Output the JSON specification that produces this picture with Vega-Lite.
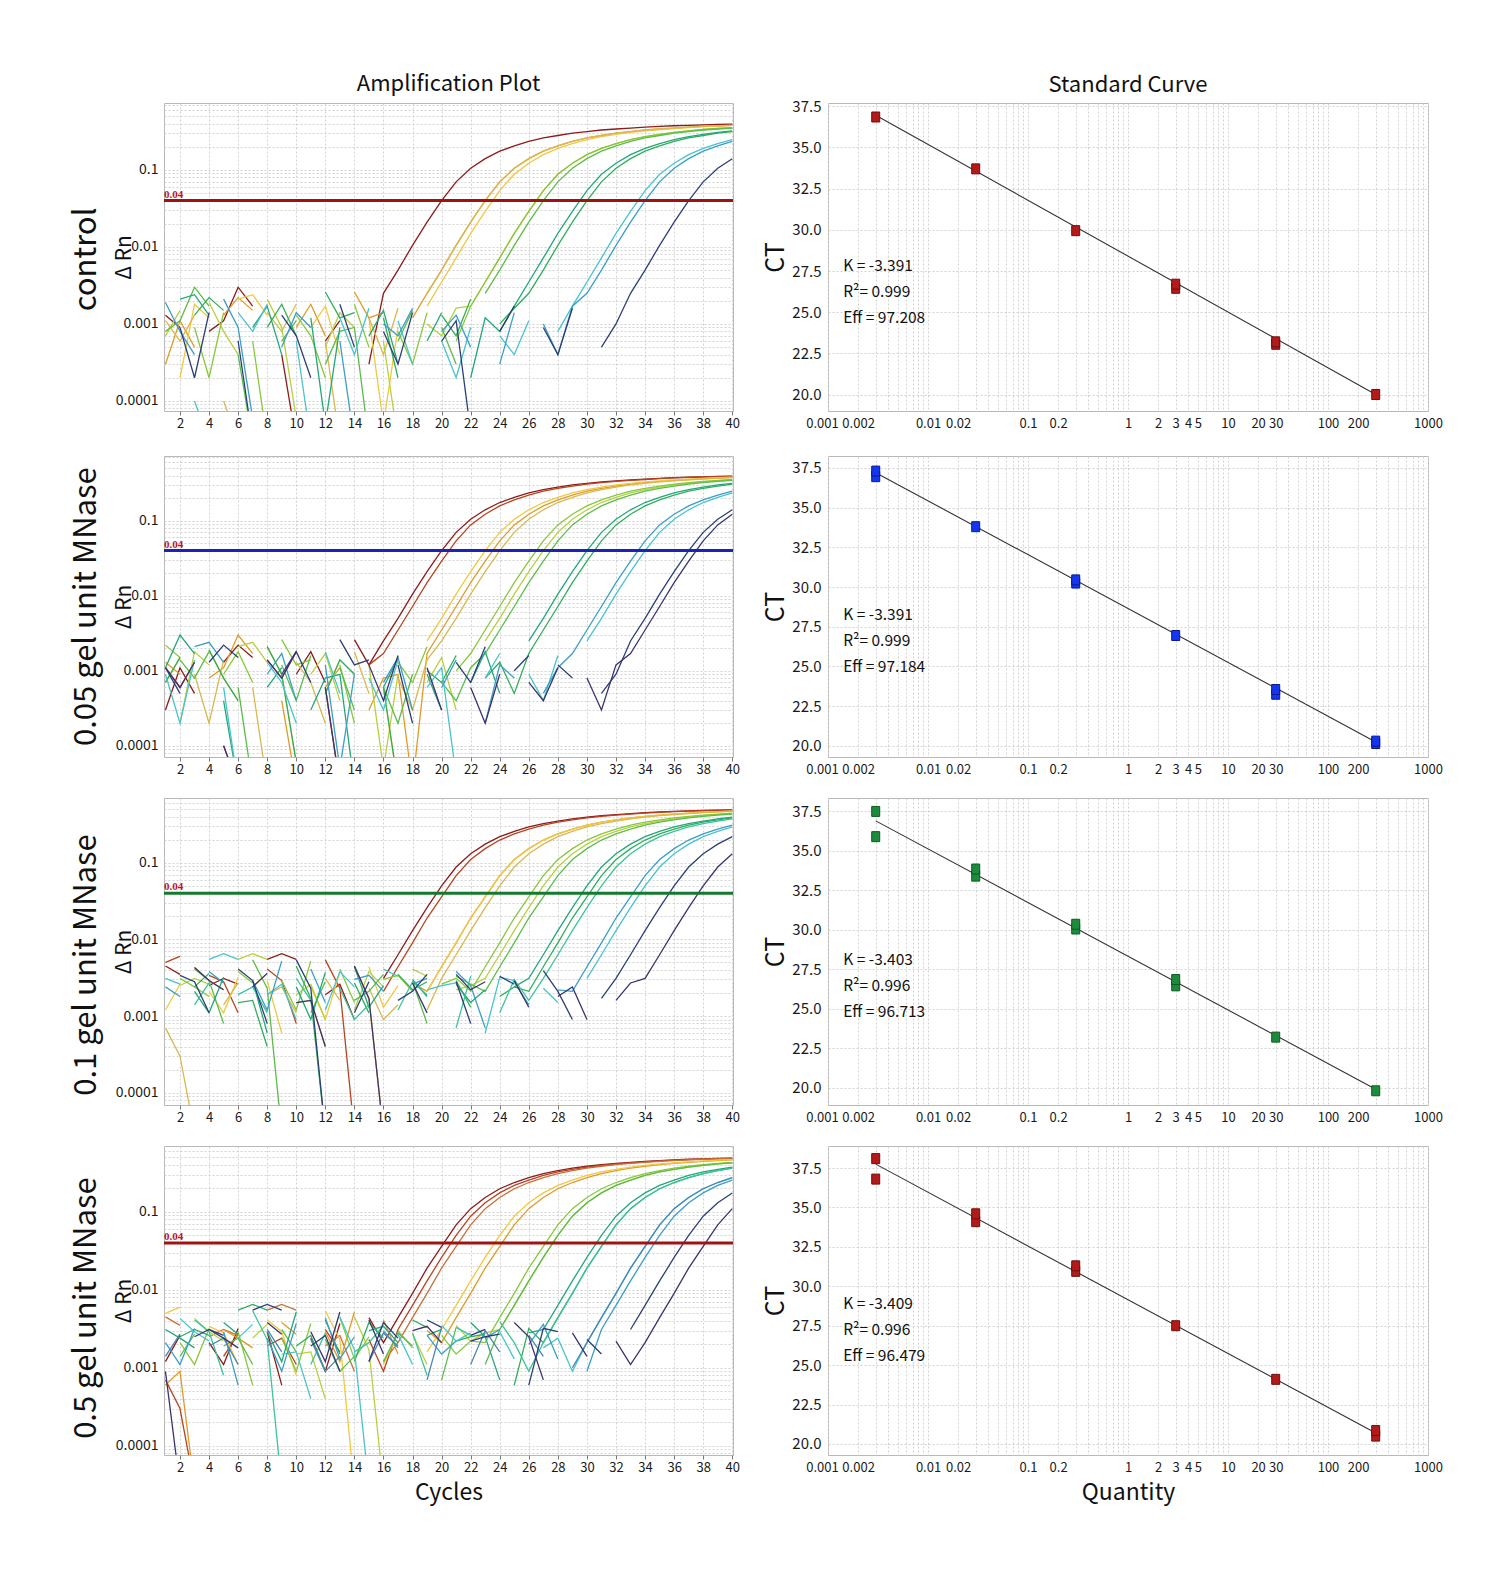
{
"$schema":"https://vega.github.io/schema/vega-lite/v6.json",
"background":"white",
"padding":{"left":70,"top":72,"right":5,"bottom":5},
"spacing":18,
"config":{
 "view":{"stroke":"#b8b8b8","strokeWidth":1},
 "axis":{"domain":false,"labelFont":"Noto Sans CJK SC","labelColor":"#1a1a1a","tickColor":"#777","gridColor":"#d2d2d2","gridDash":[2,2],"gridWidth":1,"titleFont":"Noto Sans CJK SC","titleFontWeight":"normal","titleColor":"#111","labelFlush":false,"labelOverlap":false},
 "title":{"font":"Noto Sans CJK SC","fontWeight":"normal","fontSize":22,"color":"#111"},
 "text":{"font":"Noto Sans CJK SC"}
},
"datasets":{
"thr":[{"p":"p1","t":0.04},{"p":"p2","t":0.04},{"p":"p3","t":0.04},{"p":"p4","t":0.04}],
"stat":[{"p":"p1","s":"K = -3.391\nR²= 0.999\nEff = 97.208"},{"p":"p2","s":"K = -3.391\nR²= 0.999\nEff = 97.184"},{"p":"p3","s":"K = -3.403\nR²= 0.996\nEff = 96.713"},{"p":"p4","s":"K = -3.409\nR²= 0.996\nEff = 96.479"}],
"fit":[{"p":"p1","q":0.003,"ct":36.96},{"p":"p1","q":300,"ct":20.0},{"p":"p2","q":0.003,"ct":37.2},{"p":"p2","q":300,"ct":20.25},{"p":"p3","q":0.003,"ct":36.9},{"p":"p3","q":300,"ct":19.9},{"p":"p4","q":0.003,"ct":37.75},{"p":"p4","q":300,"ct":20.7}],
"std":[
{"p":"p1","q":0.003,"ct":36.85},{"p":"p1","q":0.03,"ct":33.7},{"p":"p1","q":0.3,"ct":29.95},{"p":"p1","q":3,"ct":26.45},{"p":"p1","q":3,"ct":26.7},{"p":"p1","q":30,"ct":23.05},{"p":"p1","q":30,"ct":23.2},{"p":"p1","q":300,"ct":20.0},
{"p":"p2","q":0.003,"ct":36.95},{"p":"p2","q":0.003,"ct":37.3},{"p":"p2","q":0.03,"ct":33.8},{"p":"p2","q":0.3,"ct":30.25},{"p":"p2","q":0.3,"ct":30.45},{"p":"p2","q":3,"ct":26.95},{"p":"p2","q":30,"ct":23.25},{"p":"p2","q":30,"ct":23.55},{"p":"p2","q":300,"ct":20.15},{"p":"p2","q":300,"ct":20.3},
{"p":"p3","q":0.003,"ct":37.5},{"p":"p3","q":0.003,"ct":35.9},{"p":"p3","q":0.03,"ct":33.4},{"p":"p3","q":0.03,"ct":33.85},{"p":"p3","q":0.3,"ct":30.05},{"p":"p3","q":0.3,"ct":30.35},{"p":"p3","q":3,"ct":26.45},{"p":"p3","q":3,"ct":26.85},{"p":"p3","q":30,"ct":23.2},{"p":"p3","q":300,"ct":19.8},
{"p":"p4","q":0.003,"ct":38.1},{"p":"p4","q":0.003,"ct":36.8},{"p":"p4","q":0.03,"ct":34.1},{"p":"p4","q":0.03,"ct":34.6},{"p":"p4","q":0.3,"ct":30.95},{"p":"p4","q":0.3,"ct":31.3},{"p":"p4","q":3,"ct":27.5},{"p":"p4","q":30,"ct":24.1},{"p":"p4","q":300,"ct":20.5},{"p":"p4","q":300,"ct":20.85}
],
"amp":[
{"p":"p1","w":"a1","c":[1,2,3,4,5,6,7,8,9,10,11,12,13,14,15,16,17,18,19,20,21,22,23,24,25,26,27,28,29,30,31,32,33,34,35,36,37,38,39,40],"v":[0.0013,0.0009,null,0.0008,0.0011,0.003,0.0017,null,0.0004,0.00003,null,0.0006,0.0011,null,0.0003,0.0025,0.005,0.0105,0.021,0.04,0.07,0.105,0.14,0.175,0.205,0.235,0.26,0.28,0.3,0.315,0.33,0.34,0.35,0.36,0.368,0.375,0.38,0.385,0.389,0.392]},
{"p":"p1","w":"b1","c":[1,2,3,4,5,6,7,8,9,10,11,12,13,14,15,16,17,18,19,20,21,22,23,24,25,26,27,28,29,30,31,32,33,34,35,36,37,38,39,40],"v":[0.0003,0.0011,0.0005,null,0.0013,0.0022,0.0015,null,null,0.0009,0.0018,0.0007,null,0.0026,0.0012,0.0014,null,0.0012,0.0025,0.005,0.0105,0.021,0.04,0.07,0.105,0.14,0.175,0.205,0.235,0.26,0.28,0.3,0.315,0.33,0.34,0.35,0.36,0.368,0.375,0.38]},
{"p":"p1","w":"b2","c":[1,2,3,4,5,6,7,8,9,10,11,12,13,14,15,16,17,18,19,20,21,22,23,24,25,26,27,28,29,30,31,32,33,34,35,36,37,38,39,40],"v":[null,0.0002,0.0018,0.0012,null,0.0021,0.0024,0.0013,null,null,0.0009,0.0017,0.0004,null,0.0012,0.00005,0.0009,null,0.0017,0.0035,0.0072,0.015,0.029,0.054,0.088,0.122,0.158,0.19,0.22,0.248,0.27,0.29,0.308,0.322,0.335,0.345,0.355,0.364,0.372,0.378]},
{"p":"p1","w":"b3","c":[1,2,3,4,5,6,7,8,9,10,11,12,13,14,15,16,17,18,19,20,21,22,23,24,25,26,27,28,29,30,31,32,33,34,35,36,37,38,39,40],"v":[0.0011,0.0006,0.0013,null,0.0001,0.00003,null,0.0014,0.0008,0.0018,null,0.0006,0.00003,null,0.0012,0.0004,0.0016,null,0.0025,0.005,0.0105,0.021,0.04,0.07,0.105,0.14,0.175,0.205,0.235,0.26,0.28,0.3,0.315,0.33,0.34,0.35,0.36,0.368,0.375,0.38]},
{"p":"p1","w":"c1","c":[1,2,3,4,5,6,7,8,9,10,11,12,13,14,15,16,17,18,19,20,21,22,23,24,25,26,27,28,29,30,31,32,33,34,35,36,37,38,39,40],"v":[0.0007,0.0015,null,0.0019,0.0008,0.0004,null,0.0021,0.0009,0.00006,null,0.0005,0.0014,0.0009,null,0.0006,0.00003,null,0.001,0.0007,0.0016,0.0017,0.0035,0.0072,0.015,0.029,0.054,0.088,0.122,0.158,0.19,0.22,0.248,0.27,0.29,0.308,0.322,0.335,0.345,0.355]},
{"p":"p1","w":"c2","c":[1,2,3,4,5,6,7,8,9,10,11,12,13,14,15,16,17,18,19,20,21,22,23,24,25,26,27,28,29,30,31,32,33,34,35,36,37,38,39,40],"v":[0.0016,null,0.0009,0.0002,0.0014,null,0.0006,0.00003,null,0.0013,0.0007,0.0002,null,0.0018,0.0005,null,0.0008,0.0003,0.0014,null,0.0006,0.0017,0.0035,0.0072,0.015,0.029,0.054,0.088,0.122,0.158,0.19,0.22,0.248,0.27,0.29,0.308,0.322,0.335,0.345,0.355]},
{"p":"p1","w":"c3","c":[1,2,3,4,5,6,7,8,9,10,11,12,13,14,15,16,17,18,19,20,21,22,23,24,25,26,27,28,29,30,31,32,33,34,35,36,37,38,39,40],"v":[0.0008,0.0011,0.003,0.0017,null,0.0004,0.00003,null,0.0006,0.0011,null,0.0003,0.0008,0.0009,0.00003,null,0.0006,0.0015,null,0.0009,0.0003,null,0.0025,0.005,0.0105,0.021,0.04,0.07,0.105,0.14,0.175,0.205,0.235,0.26,0.28,0.3,0.315,0.33,0.34,0.35]},
{"p":"p1","w":"d1","c":[1,2,3,4,5,6,7,8,9,10,11,12,13,14,15,16,17,18,19,20,21,22,23,24,25,26,27,28,29,30,31,32,33,34,35,36,37,38,39,40],"v":[0.0005,null,0.0013,0.0022,0.0015,null,null,0.0009,0.0018,0.0007,null,0.0026,0.0012,0.0014,null,0.0012,0.0002,null,null,0.0013,0.0007,0.0021,null,0.001,0.0016,0.0025,0.005,0.0105,0.021,0.04,0.07,0.105,0.14,0.175,0.205,0.235,0.26,0.28,0.3,0.315]},
{"p":"p1","w":"d2","c":[1,2,3,4,5,6,7,8,9,10,11,12,13,14,15,16,17,18,19,20,21,22,23,24,25,26,27,28,29,30,31,32,33,34,35,36,37,38,39,40],"v":[null,0.0021,0.0024,0.0013,null,null,0.0009,0.0017,0.0004,null,0.0012,0.00005,0.0009,null,0.0007,0.0015,0.0003,null,0.0006,0.0014,null,0.0002,0.0012,0.0008,0.0017,0.0035,0.0072,0.015,0.029,0.054,0.088,0.122,0.158,0.19,0.22,0.248,0.27,0.29,0.308,0.322]},
{"p":"p1","w":"e1","c":[1,2,3,4,5,6,7,8,9,10,11,12,13,14,15,16,17,18,19,20,21,22,23,24,25,26,27,28,29,30,31,32,33,34,35,36,37,38,39,40],"v":[0.0013,null,0.0001,0.00003,null,0.0014,0.0008,0.0018,null,0.0006,0.00003,null,0.0012,0.0004,0.0016,null,0.0011,0.0003,null,0.0006,0.0002,0.0009,null,0.0007,0.0004,0.0011,null,0.0008,0.0017,0.0035,0.0072,0.015,0.029,0.054,0.088,0.122,0.158,0.19,0.22,0.248]},
{"p":"p1","w":"e2","c":[1,2,3,4,5,6,7,8,9,10,11,12,13,14,15,16,17,18,19,20,21,22,23,24,25,26,27,28,29,30,31,32,33,34,35,36,37,38,39,40],"v":[0.0019,0.0008,0.0004,null,0.0021,0.0009,0.00006,null,0.0005,0.0014,0.0009,null,0.0006,0.00003,null,0.001,0.0007,0.0016,null,0.0008,0.0013,0.0005,null,0.0003,0.0014,null,0.001,0.0004,0.0017,0.0025,0.005,0.0105,0.021,0.04,0.07,0.105,0.14,0.175,0.205,0.235]},
{"p":"p1","w":"f1","c":[1,2,3,4,5,6,7,8,9,10,11,12,13,14,15,16,17,18,19,20,21,22,23,24,25,26,27,28,29,30,31,32,33,34,35,36,37,38,39,40],"v":[null,0.0009,0.0002,0.0014,null,0.0006,0.00003,null,0.0013,0.0007,0.0002,null,0.0018,0.0005,null,0.0008,0.0003,0.0014,null,0.0006,0.0011,0.00004,null,0.0008,0.0017,null,0.0009,0.0004,0.0016,null,0.0005,0.001,0.0025,0.005,0.0105,0.021,0.04,0.07,0.105,0.14]},
{"p":"p2","w":"a1","c":[1,2,3,4,5,6,7,8,9,10,11,12,13,14,15,16,17,18,19,20,21,22,23,24,25,26,27,28,29,30,31,32,33,34,35,36,37,38,39,40],"v":[0.0003,0.0011,0.0005,null,0.0013,0.0022,0.0015,null,null,0.0009,0.0018,0.0007,null,0.0026,0.0012,0.0025,0.005,0.0105,0.021,0.04,0.07,0.105,0.14,0.175,0.205,0.235,0.26,0.28,0.3,0.315,0.33,0.34,0.35,0.36,0.368,0.375,0.38,0.385,0.389,0.392]},
{"p":"p2","w":"a2","c":[1,2,3,4,5,6,7,8,9,10,11,12,13,14,15,16,17,18,19,20,21,22,23,24,25,26,27,28,29,30,31,32,33,34,35,36,37,38,39,40],"v":[0.0011,0.0006,0.0013,null,0.0001,0.00003,null,0.0014,0.0008,0.0018,null,0.0006,0.00003,null,0.0012,0.0017,0.0035,0.0072,0.015,0.029,0.054,0.088,0.122,0.158,0.19,0.22,0.248,0.27,0.29,0.308,0.322,0.335,0.345,0.355,0.364,0.372,0.378,0.383,0.387,0.39]},
{"p":"p2","w":"b1","c":[1,2,3,4,5,6,7,8,9,10,11,12,13,14,15,16,17,18,19,20,21,22,23,24,25,26,27,28,29,30,31,32,33,34,35,36,37,38,39,40],"v":[0.0013,0.0009,null,0.0008,0.0011,0.003,0.0017,null,0.0004,0.00003,null,0.0006,0.0011,null,0.0003,0.0008,0.0009,0.00003,0.0017,0.0035,0.0072,0.015,0.029,0.054,0.088,0.122,0.158,0.19,0.22,0.248,0.27,0.29,0.308,0.322,0.335,0.345,0.355,0.364,0.372,0.378]},
{"p":"p2","w":"b2","c":[1,2,3,4,5,6,7,8,9,10,11,12,13,14,15,16,17,18,19,20,21,22,23,24,25,26,27,28,29,30,31,32,33,34,35,36,37,38,39,40],"v":[0.0007,0.0015,null,0.0019,0.0008,0.0004,null,0.0021,0.0009,0.00006,null,0.0005,0.0014,0.0009,null,0.0006,0.00003,null,0.0025,0.005,0.0105,0.021,0.04,0.07,0.105,0.14,0.175,0.205,0.235,0.26,0.28,0.3,0.315,0.33,0.34,0.35,0.36,0.368,0.375,0.38]},
{"p":"p2","w":"b3","c":[1,2,3,4,5,6,7,8,9,10,11,12,13,14,15,16,17,18,19,20,21,22,23,24,25,26,27,28,29,30,31,32,33,34,35,36,37,38,39,40],"v":[0.0016,null,0.0009,0.0002,0.0014,null,0.0006,0.00003,null,0.0013,0.0007,0.0002,null,0.0018,0.0005,null,0.0008,0.0003,0.0014,0.0025,0.005,0.0105,0.021,0.04,0.07,0.105,0.14,0.175,0.205,0.235,0.26,0.28,0.3,0.315,0.33,0.34,0.35,0.36,0.368,0.375]},
{"p":"p2","w":"c1","c":[1,2,3,4,5,6,7,8,9,10,11,12,13,14,15,16,17,18,19,20,21,22,23,24,25,26,27,28,29,30,31,32,33,34,35,36,37,38,39,40],"v":[null,0.0002,0.0018,0.0012,null,0.0021,0.0024,0.0013,null,null,0.0009,0.0017,0.0004,null,0.0012,0.00005,0.0009,null,0.0007,0.0015,0.0003,null,0.0025,0.005,0.0105,0.021,0.04,0.07,0.105,0.14,0.175,0.205,0.235,0.26,0.28,0.3,0.315,0.33,0.34,0.35]},
{"p":"p2","w":"c2","c":[1,2,3,4,5,6,7,8,9,10,11,12,13,14,15,16,17,18,19,20,21,22,23,24,25,26,27,28,29,30,31,32,33,34,35,36,37,38,39,40],"v":[0.0022,0.0015,null,null,0.0009,0.0018,0.0007,null,0.0026,0.0012,0.0014,null,0.0012,0.0002,null,null,0.0013,0.0007,0.0021,null,0.001,0.0017,0.0035,0.0072,0.015,0.029,0.054,0.088,0.122,0.158,0.19,0.22,0.248,0.27,0.29,0.308,0.322,0.335,0.345,0.355]},
{"p":"p2","w":"c3","c":[1,2,3,4,5,6,7,8,9,10,11,12,13,14,15,16,17,18,19,20,21,22,23,24,25,26,27,28,29,30,31,32,33,34,35,36,37,38,39,40],"v":[null,0.0014,0.0008,0.0018,null,0.0006,0.00003,null,0.0012,0.0004,0.0016,null,0.0011,0.0003,null,0.0006,0.0002,0.0009,null,0.0007,0.0004,0.0011,0.0017,0.0035,0.0072,0.015,0.029,0.054,0.088,0.122,0.158,0.19,0.22,0.248,0.27,0.29,0.308,0.322,0.335,0.345]},
{"p":"p2","w":"d1","c":[1,2,3,4,5,6,7,8,9,10,11,12,13,14,15,16,17,18,19,20,21,22,23,24,25,26,27,28,29,30,31,32,33,34,35,36,37,38,39,40],"v":[0.0007,0.0015,null,0.0019,0.0008,0.0004,null,0.0021,0.0009,0.00006,null,0.0005,0.0014,0.0009,null,0.0006,0.00003,null,0.001,0.0007,0.0016,null,0.0008,0.0013,0.0005,0.0017,0.0035,0.0072,0.015,0.029,0.054,0.088,0.122,0.158,0.19,0.22,0.248,0.27,0.29,0.308]},
{"p":"p2","w":"d2","c":[1,2,3,4,5,6,7,8,9,10,11,12,13,14,15,16,17,18,19,20,21,22,23,24,25,26,27,28,29,30,31,32,33,34,35,36,37,38,39,40],"v":[0.0011,0.003,0.0017,null,0.0004,0.00003,null,0.0006,0.0011,null,0.0003,0.0008,0.0009,0.00003,null,0.0006,0.0015,null,0.0009,0.0003,null,0.0007,0.0018,0.0005,null,0.0025,0.005,0.0105,0.021,0.04,0.07,0.105,0.14,0.175,0.205,0.235,0.26,0.28,0.3,0.315]},
{"p":"p2","w":"e1","c":[1,2,3,4,5,6,7,8,9,10,11,12,13,14,15,16,17,18,19,20,21,22,23,24,25,26,27,28,29,30,31,32,33,34,35,36,37,38,39,40],"v":[0.0009,0.0002,0.0014,null,0.0006,0.00003,null,0.0013,0.0007,0.0002,null,0.0018,0.0005,null,0.0008,0.0003,0.0014,null,0.0006,0.0011,0.00004,null,0.0008,0.0017,null,0.0009,0.0004,0.0016,null,0.0025,0.005,0.0105,0.021,0.04,0.07,0.105,0.14,0.175,0.205,0.235]},
{"p":"p2","w":"e2","c":[1,2,3,4,5,6,7,8,9,10,11,12,13,14,15,16,17,18,19,20,21,22,23,24,25,26,27,28,29,30,31,32,33,34,35,36,37,38,39,40],"v":[0.0012,null,0.0021,0.0024,0.0013,null,null,0.0009,0.0017,0.0004,null,0.0012,0.00005,0.0009,null,0.0007,0.0015,0.0003,null,0.0006,0.0014,null,0.0002,0.0012,0.0008,null,0.0005,0.0011,0.0017,0.0035,0.0072,0.015,0.029,0.054,0.088,0.122,0.158,0.19,0.22,0.248]},
{"p":"p2","w":"f1","c":[1,2,3,4,5,6,7,8,9,10,11,12,13,14,15,16,17,18,19,20,21,22,23,24,25,26,27,28,29,30,31,32,33,34,35,36,37,38,39,40],"v":[0.0011,0.0005,null,0.0013,0.0022,0.0015,null,null,0.0009,0.0018,0.0007,null,0.0026,0.0012,0.0014,null,0.0012,0.0002,null,null,0.0013,0.0007,0.0021,null,0.001,0.0016,null,0.0012,0.0008,null,0.0005,0.0009,0.0025,0.005,0.0105,0.021,0.04,0.07,0.105,0.14]},
{"p":"p2","w":"f2","c":[1,2,3,4,5,6,7,8,9,10,11,12,13,14,15,16,17,18,19,20,21,22,23,24,25,26,27,28,29,30,31,32,33,34,35,36,37,38,39,40],"v":[0.0011,0.0006,0.0013,null,0.0001,0.00003,null,0.0014,0.0008,0.0018,null,0.0006,0.00003,null,0.0012,0.0004,0.0016,null,0.0011,0.0003,null,0.0006,0.0002,0.0009,null,0.0007,0.0004,0.0011,null,0.0008,0.0003,0.0012,0.0017,0.0035,0.0072,0.015,0.029,0.054,0.088,0.122]},
{"p":"p3","w":"a1","c":[1,2,3,4,5,6,7,8,9,10,11,12,13,14,15,16,17,18,19,20,21,22,23,24,25,26,27,28,29,30,31,32,33,34,35,36,37,38,39,40],"v":[0.0045,0.0035,null,0.0025,0.0031,0.0026,null,0.0055,0.0065,0.0055,null,0.0019,0.0026,0.0009,null,0.0031,0.0063,0.013,0.026,0.05,0.088,0.131,0.175,0.219,0.256,0.294,0.325,0.35,0.375,0.394,0.413,0.425,0.438,0.45,0.46,0.469,0.475,0.481,0.486,0.49]},
{"p":"p3","w":"a2","c":[1,2,3,4,5,6,7,8,9,10,11,12,13,14,15,16,17,18,19,20,21,22,23,24,25,26,27,28,29,30,31,32,33,34,35,36,37,38,39,40],"v":[0.005,0.006,null,0.0034,0.0028,0.0011,null,0.0041,0.0029,0.0008,null,0.0054,0.0023,0.00003,null,0.0021,0.0044,0.009,0.019,0.036,0.068,0.11,0.153,0.198,0.238,0.275,0.31,0.338,0.363,0.385,0.403,0.419,0.431,0.444,0.455,0.465,0.473,0.479,0.484,0.488]},
{"p":"p3","w":"b1","c":[1,2,3,4,5,6,7,8,9,10,11,12,13,14,15,16,17,18,19,20,21,22,23,24,25,26,27,28,29,30,31,32,33,34,35,36,37,38,39,40],"v":[0.0024,null,0.0043,0.0029,0.0022,null,0.0024,0.0036,null,0.0015,0.0016,0.0004,null,0.0045,0.0017,0.00003,null,0.0027,0.0021,0.0044,0.009,0.019,0.036,0.068,0.11,0.153,0.198,0.238,0.275,0.31,0.338,0.363,0.385,0.403,0.419,0.431,0.444,0.455,0.465,0.473]},
{"p":"p3","w":"b2","c":[1,2,3,4,5,6,7,8,9,10,11,12,13,14,15,16,17,18,19,20,21,22,23,24,25,26,27,28,29,30,31,32,33,34,35,36,37,38,39,40],"v":[0.0012,0.0026,null,0.0021,0.0011,0.0032,null,0.0029,0.0006,null,0.0024,0.0009,0.0037,null,0.0044,0.0013,0.0025,null,0.0021,0.0044,0.009,0.019,0.036,0.068,0.11,0.153,0.198,0.238,0.275,0.31,0.338,0.363,0.385,0.403,0.419,0.431,0.444,0.455,0.465,0.473]},
{"p":"p3","w":"b3","c":[1,2,3,4,5,6,7,8,9,10,11,12,13,14,15,16,17,18,19,20,21,22,23,24,25,26,27,28,29,30,31,32,33,34,35,36,37,38,39,40],"v":[0.0007,0.0003,0.00003,null,0.0014,0.0027,null,0.0019,0.0024,0.0011,null,0.0031,0.0016,null,0.0023,0.0009,0.0014,null,0.0012,0.0031,0.0063,0.013,0.026,0.05,0.088,0.131,0.175,0.219,0.256,0.294,0.325,0.35,0.375,0.394,0.413,0.425,0.438,0.45,0.46,0.469]},
{"p":"p3","w":"c1","c":[1,2,3,4,5,6,7,8,9,10,11,12,13,14,15,16,17,18,19,20,21,22,23,24,25,26,27,28,29,30,31,32,33,34,35,36,37,38,39,40],"v":[null,0.0025,0.0031,0.0026,null,0.0055,0.0065,0.0055,null,0.0019,0.0026,0.0009,null,0.0012,0.0038,0.0024,null,0.0041,0.0033,null,0.0022,0.0025,0.0031,0.0063,0.013,0.026,0.05,0.088,0.131,0.175,0.219,0.256,0.294,0.325,0.35,0.375,0.394,0.413,0.425,0.438]},
{"p":"p3","w":"c2","c":[1,2,3,4,5,6,7,8,9,10,11,12,13,14,15,16,17,18,19,20,21,22,23,24,25,26,27,28,29,30,31,32,33,34,35,36,37,38,39,40],"v":[null,0.0031,0.0024,0.0018,null,0.0038,0.0027,null,0.0029,0.0012,0.0052,null,0.0041,0.0015,null,0.003,0.0034,0.0021,null,0.0026,0.0031,0.0021,0.0044,0.009,0.019,0.036,0.068,0.11,0.153,0.198,0.238,0.275,0.31,0.338,0.363,0.385,0.403,0.419,0.431,0.444]},
{"p":"p3","w":"c3","c":[1,2,3,4,5,6,7,8,9,10,11,12,13,14,15,16,17,18,19,20,21,22,23,24,25,26,27,28,29,30,31,32,33,34,35,36,37,38,39,40],"v":[0.0011,null,0.0041,0.0029,0.0008,null,0.0054,0.0023,0.00003,null,0.0011,0.0028,null,0.0016,0.0021,0.0035,null,0.0028,0.0008,null,0.0033,0.0026,0.0021,0.0044,0.009,0.019,0.036,0.068,0.11,0.153,0.198,0.238,0.275,0.31,0.338,0.363,0.385,0.403,0.419,0.431]},
{"p":"p3","w":"d1","c":[1,2,3,4,5,6,7,8,9,10,11,12,13,14,15,16,17,18,19,20,21,22,23,24,25,26,27,28,29,30,31,32,33,34,35,36,37,38,39,40],"v":[0.0022,null,0.0024,0.0036,null,0.0015,0.0016,0.0004,null,0.0045,0.0017,0.00003,null,0.0027,0.0011,null,0.0035,0.0022,0.0028,null,0.0029,0.0013,null,0.0018,0.0024,0.0021,0.0044,0.009,0.019,0.036,0.068,0.11,0.153,0.198,0.238,0.275,0.31,0.338,0.363,0.385]},
{"p":"p3","w":"d2","c":[1,2,3,4,5,6,7,8,9,10,11,12,13,14,15,16,17,18,19,20,21,22,23,24,25,26,27,28,29,30,31,32,33,34,35,36,37,38,39,40],"v":[0.0026,null,0.0021,0.0011,0.0032,null,0.0029,0.0006,null,0.0024,0.0009,0.0037,null,0.0044,0.0013,0.0025,null,0.003,0.0018,null,0.0026,0.0015,0.0022,null,0.0024,0.0031,0.0063,0.013,0.026,0.05,0.088,0.131,0.175,0.219,0.256,0.294,0.325,0.35,0.375,0.394]},
{"p":"p3","w":"d3","c":[1,2,3,4,5,6,7,8,9,10,11,12,13,14,15,16,17,18,19,20,21,22,23,24,25,26,27,28,29,30,31,32,33,34,35,36,37,38,39,40],"v":[0.00003,null,0.0014,0.0027,null,0.0019,0.0024,0.0011,null,0.0031,0.0016,null,0.0023,0.0009,0.0014,null,0.0012,0.0028,0.0019,null,0.0007,0.0033,null,0.0011,0.003,0.0016,0.0031,0.0063,0.013,0.026,0.05,0.088,0.131,0.175,0.219,0.256,0.294,0.325,0.35,0.375]},
{"p":"p3","w":"e1","c":[1,2,3,4,5,6,7,8,9,10,11,12,13,14,15,16,17,18,19,20,21,22,23,24,25,26,27,28,29,30,31,32,33,34,35,36,37,38,39,40],"v":[0.0031,0.0026,null,0.0055,0.0065,0.0055,null,0.0019,0.0026,0.0009,null,0.0012,0.0038,0.0024,null,0.0041,0.0033,null,0.0022,0.0025,0.0027,null,0.0006,0.0032,0.0029,null,0.0023,0.0015,null,0.0031,0.0063,0.013,0.026,0.05,0.088,0.131,0.175,0.219,0.256,0.294]},
{"p":"p3","w":"e2","c":[1,2,3,4,5,6,7,8,9,10,11,12,13,14,15,16,17,18,19,20,21,22,23,24,25,26,27,28,29,30,31,32,33,34,35,36,37,38,39,40],"v":[0.0024,0.0018,null,0.0038,0.0027,null,0.0029,0.0012,0.0052,null,0.0041,0.0015,null,0.003,0.0034,0.0021,null,0.0026,0.0031,null,0.0038,0.0025,0.0007,null,0.0028,0.0014,null,0.0022,0.0021,0.0044,0.009,0.019,0.036,0.068,0.11,0.153,0.198,0.238,0.275,0.31]},
{"p":"p3","w":"f1","c":[1,2,3,4,5,6,7,8,9,10,11,12,13,14,15,16,17,18,19,20,21,22,23,24,25,26,27,28,29,30,31,32,33,34,35,36,37,38,39,40],"v":[null,0.0034,0.0028,0.0011,null,0.0041,0.0029,0.0008,null,0.0054,0.0023,0.00003,null,0.0011,0.0028,null,0.0016,0.0021,0.0035,null,0.0028,0.0008,null,0.0033,0.0026,null,0.0039,0.0021,0.0009,null,0.0017,0.0031,0.0063,0.013,0.026,0.05,0.088,0.131,0.175,0.219]},
{"p":"p3","w":"f2","c":[1,2,3,4,5,6,7,8,9,10,11,12,13,14,15,16,17,18,19,20,21,22,23,24,25,26,27,28,29,30,31,32,33,34,35,36,37,38,39,40],"v":[0.0024,null,0.0043,0.0029,0.0022,null,0.0024,0.0036,null,0.0015,0.0016,0.0004,null,0.0045,0.0017,0.00003,null,0.0027,0.0011,null,0.0035,0.0022,0.0028,null,0.0029,0.0013,null,0.0018,0.0024,0.0009,null,0.0016,0.0027,0.0031,0.0063,0.013,0.026,0.05,0.088,0.131]},
{"p":"p4","w":"a1","c":[1,2,3,4,5,6,7,8,9,10,11,12,13,14,15,16,17,18,19,20,21,22,23,24,25,26,27,28,29,30,31,32,33,34,35,36,37,38,39,40],"v":[0.0012,0.0026,null,0.0021,0.0011,0.0032,null,0.0029,0.0006,null,0.0024,0.0009,0.0037,null,0.0044,0.0021,0.0044,0.009,0.019,0.036,0.068,0.11,0.153,0.198,0.238,0.275,0.31,0.338,0.363,0.385,0.403,0.419,0.431,0.444,0.455,0.465,0.473,0.479,0.484,0.488]},
{"p":"p4","w":"a2","c":[1,2,3,4,5,6,7,8,9,10,11,12,13,14,15,16,17,18,19,20,21,22,23,24,25,26,27,28,29,30,31,32,33,34,35,36,37,38,39,40],"v":[0.0007,0.0003,0.00003,null,0.0014,0.0027,null,0.0019,0.0024,0.0011,null,0.0031,0.0016,null,0.0023,0.0009,0.0031,0.0063,0.013,0.026,0.05,0.088,0.131,0.175,0.219,0.256,0.294,0.325,0.35,0.375,0.394,0.413,0.425,0.438,0.45,0.46,0.469,0.475,0.481,0.486]},
{"p":"p4","w":"a3","c":[1,2,3,4,5,6,7,8,9,10,11,12,13,14,15,16,17,18,19,20,21,22,23,24,25,26,27,28,29,30,31,32,33,34,35,36,37,38,39,40],"v":[0.0045,0.0035,null,0.0025,0.0031,0.0026,null,0.0055,0.0065,0.0055,null,0.0019,0.0026,0.0009,null,0.0012,0.0021,0.0044,0.009,0.019,0.036,0.068,0.11,0.153,0.198,0.238,0.275,0.31,0.338,0.363,0.385,0.403,0.419,0.431,0.444,0.455,0.465,0.473,0.479,0.484]},
{"p":"p4","w":"b1","c":[1,2,3,4,5,6,7,8,9,10,11,12,13,14,15,16,17,18,19,20,21,22,23,24,25,26,27,28,29,30,31,32,33,34,35,36,37,38,39,40],"v":[0.0006,0.0009,0.00003,null,0.0031,0.0024,0.0018,null,0.0038,0.0027,null,0.0029,0.0012,0.0052,null,0.0041,0.0015,null,0.003,0.0021,0.0044,0.009,0.019,0.036,0.068,0.11,0.153,0.198,0.238,0.275,0.31,0.338,0.363,0.385,0.403,0.419,0.431,0.444,0.455,0.465]},
{"p":"p4","w":"b2","c":[1,2,3,4,5,6,7,8,9,10,11,12,13,14,15,16,17,18,19,20,21,22,23,24,25,26,27,28,29,30,31,32,33,34,35,36,37,38,39,40],"v":[0.005,0.006,null,0.0034,0.0028,0.0011,null,0.0041,0.0029,0.0008,null,0.0054,0.0023,0.00003,null,0.0011,0.0028,null,0.0016,0.0031,0.0063,0.013,0.026,0.05,0.088,0.131,0.175,0.219,0.256,0.294,0.325,0.35,0.375,0.394,0.413,0.425,0.438,0.45,0.46,0.469]},
{"p":"p4","w":"c1","c":[1,2,3,4,5,6,7,8,9,10,11,12,13,14,15,16,17,18,19,20,21,22,23,24,25,26,27,28,29,30,31,32,33,34,35,36,37,38,39,40],"v":[0.0024,null,0.0043,0.0029,0.0022,null,0.0024,0.0036,null,0.0015,0.0016,0.0004,null,0.0045,0.0017,0.00003,null,0.0027,0.0011,null,0.0035,0.0022,0.0028,0.0031,0.0063,0.013,0.026,0.05,0.088,0.131,0.175,0.219,0.256,0.294,0.325,0.35,0.375,0.394,0.413,0.425]},
{"p":"p4","w":"c2","c":[1,2,3,4,5,6,7,8,9,10,11,12,13,14,15,16,17,18,19,20,21,22,23,24,25,26,27,28,29,30,31,32,33,34,35,36,37,38,39,40],"v":[null,0.0021,0.0011,0.0032,null,0.0029,0.0006,null,0.0024,0.0009,0.0037,null,0.0044,0.0013,0.0025,null,0.003,0.0018,null,0.0026,0.0015,0.0022,0.0021,0.0044,0.009,0.019,0.036,0.068,0.11,0.153,0.198,0.238,0.275,0.31,0.338,0.363,0.385,0.403,0.419,0.431]},
{"p":"p4","w":"c3","c":[1,2,3,4,5,6,7,8,9,10,11,12,13,14,15,16,17,18,19,20,21,22,23,24,25,26,27,28,29,30,31,32,33,34,35,36,37,38,39,40],"v":[null,0.0014,0.0027,null,0.0019,0.0024,0.0011,null,0.0031,0.0016,null,0.0023,0.0009,0.0014,null,0.0012,0.0028,0.0019,null,0.0007,0.0033,null,0.0011,0.0031,0.0063,0.013,0.026,0.05,0.088,0.131,0.175,0.219,0.256,0.294,0.325,0.35,0.375,0.394,0.413,0.425]},
{"p":"p4","w":"d1","c":[1,2,3,4,5,6,7,8,9,10,11,12,13,14,15,16,17,18,19,20,21,22,23,24,25,26,27,28,29,30,31,32,33,34,35,36,37,38,39,40],"v":[null,0.0025,0.0031,0.0026,null,0.0055,0.0065,0.0055,null,0.0019,0.0026,0.0009,null,0.0012,0.0038,0.0024,null,0.0041,0.0033,null,0.0022,0.0025,0.0027,null,0.0006,0.0032,0.0021,0.0044,0.009,0.019,0.036,0.068,0.11,0.153,0.198,0.238,0.275,0.31,0.338,0.363]},
{"p":"p4","w":"d2","c":[1,2,3,4,5,6,7,8,9,10,11,12,13,14,15,16,17,18,19,20,21,22,23,24,25,26,27,28,29,30,31,32,33,34,35,36,37,38,39,40],"v":[0.0031,0.0024,0.0018,null,0.0038,0.0027,null,0.0029,0.0012,0.0052,null,0.0041,0.0015,null,0.003,0.0034,0.0021,null,0.0026,0.0031,null,0.0038,0.0025,0.0007,null,0.0028,0.0031,0.0063,0.013,0.026,0.05,0.088,0.131,0.175,0.219,0.256,0.294,0.325,0.35,0.375]},
{"p":"p4","w":"d3","c":[1,2,3,4,5,6,7,8,9,10,11,12,13,14,15,16,17,18,19,20,21,22,23,24,25,26,27,28,29,30,31,32,33,34,35,36,37,38,39,40],"v":[0.0011,null,0.0041,0.0029,0.0008,null,0.0054,0.0023,0.00003,null,0.0011,0.0028,null,0.0016,0.0021,0.0035,null,0.0028,0.0008,null,0.0033,0.0026,null,0.0039,0.0021,0.0009,0.0021,0.0044,0.009,0.019,0.036,0.068,0.11,0.153,0.198,0.238,0.275,0.31,0.338,0.363]},
{"p":"p4","w":"e1","c":[1,2,3,4,5,6,7,8,9,10,11,12,13,14,15,16,17,18,19,20,21,22,23,24,25,26,27,28,29,30,31,32,33,34,35,36,37,38,39,40],"v":[null,0.0043,0.0029,0.0022,null,0.0024,0.0036,null,0.0015,0.0016,0.0004,null,0.0045,0.0017,0.00003,null,0.0027,0.0011,null,0.0035,0.0022,0.0028,null,0.0029,0.0013,null,0.0018,0.0024,0.0009,0.0021,0.0044,0.009,0.019,0.036,0.068,0.11,0.153,0.198,0.238,0.275]},
{"p":"p4","w":"e2","c":[1,2,3,4,5,6,7,8,9,10,11,12,13,14,15,16,17,18,19,20,21,22,23,24,25,26,27,28,29,30,31,32,33,34,35,36,37,38,39,40],"v":[0.0021,0.0011,0.0032,null,0.0029,0.0006,null,0.0024,0.0009,0.0037,null,0.0044,0.0013,0.0025,null,0.003,0.0018,null,0.0026,0.0015,0.0022,null,0.0024,0.0031,null,0.002,0.0036,0.0013,null,0.0009,0.0031,0.0063,0.013,0.026,0.05,0.088,0.131,0.175,0.219,0.256]},
{"p":"p4","w":"e3","c":[1,2,3,4,5,6,7,8,9,10,11,12,13,14,15,16,17,18,19,20,21,22,23,24,25,26,27,28,29,30,31,32,33,34,35,36,37,38,39,40],"v":[0.0014,0.0027,null,0.0019,0.0024,0.0011,null,0.0031,0.0016,null,0.0023,0.0009,0.0014,null,0.0012,0.0028,0.0019,null,0.0007,0.0033,null,0.0011,0.003,0.0016,null,0.0026,0.0014,null,0.001,0.0021,0.0044,0.009,0.019,0.036,0.068,0.11,0.153,0.198,0.238,0.275]},
{"p":"p4","w":"f1","c":[1,2,3,4,5,6,7,8,9,10,11,12,13,14,15,16,17,18,19,20,21,22,23,24,25,26,27,28,29,30,31,32,33,34,35,36,37,38,39,40],"v":[0.0035,null,0.0025,0.0031,0.0026,null,0.0055,0.0065,0.0055,null,0.0019,0.0026,0.0009,null,0.0012,0.0038,0.0024,null,0.0041,0.0033,null,0.0022,0.0025,0.0027,null,0.0006,0.0032,0.0029,null,0.0023,0.0015,null,0.0031,0.0063,0.013,0.026,0.05,0.088,0.131,0.175]},
{"p":"p4","w":"f2","c":[1,2,3,4,5,6,7,8,9,10,11,12,13,14,15,16,17,18,19,20,21,22,23,24,25,26,27,28,29,30,31,32,33,34,35,36,37,38,39,40],"v":[0.0009,0.00003,null,0.0031,0.0024,0.0018,null,0.0038,0.0027,null,0.0029,0.0012,0.0052,null,0.0041,0.0015,null,0.003,0.0034,0.0021,null,0.0026,0.0031,null,0.0038,0.0025,0.0007,null,0.0028,0.0014,null,0.0022,0.0011,0.0021,0.0044,0.009,0.019,0.036,0.068,0.11]}
]
},
"vconcat":[
{"title":{"text":"control","orient":"left","anchor":"middle","fontSize":31,"offset":10,"dx":-8},
 "spacing":23,
 "hconcat":[
  {"title":{"text":"Amplification Plot","offset":2},"width":569,"height":308,
   "layer":[
    {"data":{"name":"amp"},"transform":[{"filter":"datum.p === 'p1'"},{"flatten":["c","v"]}],
     "mark":{"type":"line","strokeWidth":1.3,"clip":true},
     "encoding":{
      "x":{"field":"c","type":"quantitative","scale":{"domain":[0.9,40.05],"nice":false,"zero":false},"axis":{"values":[2,4,6,8,10,12,14,16,18,20,22,24,26,28,30,32,34,36,38,40],"tickCount":100,"format":"d","title":null,"tickSize":4,"labelPadding":2,"labelFontSize":13,"labelOverlap":false}},
      "y":{"field":"v","type":"quantitative","scale":{"type":"log","domain":[0.000074,0.74],"nice":false},"axis":{"values":[0.00008,0.00009,0.0001,0.0002,0.0003,0.0004,0.0005,0.0006,0.0007,0.0008,0.0009,0.001,0.002,0.003,0.004,0.005,0.006,0.007,0.008,0.009,0.01,0.02,0.03,0.04,0.05,0.06,0.07,0.08,0.09,0.1,0.2,0.3,0.4,0.5,0.6,0.7],"tickCount":100,"format":"~g","labelExpr":"indexof([0.0001,0.001,0.01,0.1], datum.value) >= 0 ? datum.label : ''","ticks":false,"labelPadding":6,"labelFontSize":14,"labelOverlap":false,"title":"Δ Rn","titleFontSize":21,"titlePadding":-19}},
      "color":{"field":"w","type":"nominal","legend":null,"scale":{"domain":["a1","a2","a3","b1","b2","b3","c1","c2","c3","d1","d2","d3","e1","e2","e3","f1","f2"],"range":["#8e1b1b","#b8431f","#c8703a","#e09a2a","#f0c840","#d8b850","#b8d040","#88c83c","#5cbc4a","#2fae5a","#22a878","#3cc49a","#48c4cc","#3a9ec8","#4a86b8","#2c3f78","#3a3470"]}}
     }},
    {"data":{"name":"thr"},"transform":[{"filter":"datum.p === 'p1'"}],"mark":{"type":"rule","color":"#9e1212","strokeWidth":3},"encoding":{"y":{"field":"t","type":"quantitative"}}},
    {"data":{"name":"thr"},"transform":[{"filter":"datum.p === 'p1'"}],"mark":{"type":"text","align":"left","baseline":"bottom","dy":-1,"font":"Liberation Serif, DejaVu Serif, serif","fontWeight":"bold","fontSize":11,"color":"#c0141c"},"encoding":{"x":{"datum":0.9},"y":{"field":"t","type":"quantitative"},"text":{"field":"t","type":"quantitative","format":".2f"}}}
   ]},
  {"title":{"text":"Standard Curve","offset":2},"width":600,"height":308,
   "layer":[
    {"data":{"name":"fit"},"transform":[{"filter":"datum.p === 'p1'"}],"mark":{"type":"line","color":"#333333","strokeWidth":1.1},
     "encoding":{
      "x":{"field":"q","type":"quantitative","scale":{"type":"log","domain":[0.001,1000],"nice":false},"axis":{"values":[0.001,0.002,0.003,0.004,0.005,0.006,0.007,0.008,0.009,0.01,0.02,0.03,0.04,0.05,0.06,0.07,0.08,0.09,0.1,0.2,0.3,0.4,0.5,0.6,0.7,0.8,0.9,1,2,3,4,5,6,7,8,9,10,20,30,40,50,60,70,80,90,100,200,300,400,500,600,700,800,900,1000],"tickCount":100,"format":"~g","labelExpr":"indexof([0.001,0.002,0.01,0.02,0.1,0.2,1,2,3,4,5,10,20,30,100,200,1000], datum.value) >= 0 ? datum.label : ''","labelOffset":{"condition":{"test":"datum.value === 0.001","value":-6},"value":0},"ticks":false,"labelPadding":6,"labelFontSize":13,"labelOverlap":false,"title":null}},
      "y":{"field":"ct","type":"quantitative","scale":{"domain":[19.0,37.7],"nice":false,"zero":false},"axis":{"values":[20,22.5,25,27.5,30,32.5,35,37.5],"format":".1f","ticks":false,"labelPadding":7,"labelFontSize":15,"title":"CT","titleFontSize":25,"titlePadding":3}}
     }},
    {"data":{"name":"std"},"transform":[{"filter":"datum.p === 'p1'"}],"mark":{"type":"point","shape":"M-0.8,-1H0.8V1H-0.8Z","filled":true,"size":100,"fill":"#b31b1b","stroke":"#6e0e0e","strokeWidth":1,"opacity":1},"encoding":{"x":{"field":"q","type":"quantitative"},"y":{"field":"ct","type":"quantitative"}}},
    {"data":{"name":"stat"},"transform":[{"filter":"datum.p === 'p1'"}],"mark":{"type":"text","align":"left","baseline":"top","lineBreak":"\n","lineHeight":26,"fontSize":15.5,"color":"#111"},"encoding":{"x":{"datum":0.00142},"y":{"datum":28.2},"text":{"field":"s","type":"nominal"}}}
   ]}
 ]},
{"title":{"text":"0.05 gel unit MNase","orient":"left","anchor":"middle","fontSize":31,"offset":10,"dx":6.5},
 "spacing":23,
 "hconcat":[
  {"width":569,"height":301,
   "layer":[
    {"data":{"name":"amp"},"transform":[{"filter":"datum.p === 'p2'"},{"flatten":["c","v"]}],
     "mark":{"type":"line","strokeWidth":1.3,"clip":true},
     "encoding":{
      "x":{"field":"c","type":"quantitative","scale":{"domain":[0.9,40.05],"nice":false,"zero":false},"axis":{"values":[2,4,6,8,10,12,14,16,18,20,22,24,26,28,30,32,34,36,38,40],"tickCount":100,"format":"d","title":null,"tickSize":4,"labelPadding":2,"labelFontSize":13,"labelOverlap":false}},
      "y":{"field":"v","type":"quantitative","scale":{"type":"log","domain":[0.000071,0.73],"nice":false},"axis":{"values":[0.00008,0.00009,0.0001,0.0002,0.0003,0.0004,0.0005,0.0006,0.0007,0.0008,0.0009,0.001,0.002,0.003,0.004,0.005,0.006,0.007,0.008,0.009,0.01,0.02,0.03,0.04,0.05,0.06,0.07,0.08,0.09,0.1,0.2,0.3,0.4,0.5,0.6,0.7],"tickCount":100,"format":"~g","labelExpr":"indexof([0.0001,0.001,0.01,0.1], datum.value) >= 0 ? datum.label : ''","ticks":false,"labelPadding":6,"labelFontSize":14,"labelOverlap":false,"title":"Δ Rn","titleFontSize":21,"titlePadding":-19}},
      "color":{"field":"w","type":"nominal","legend":null,"scale":{"domain":["a1","a2","a3","b1","b2","b3","c1","c2","c3","d1","d2","d3","e1","e2","e3","f1","f2"],"range":["#8e1b1b","#b8431f","#c8703a","#e09a2a","#f0c840","#d8b850","#b8d040","#88c83c","#5cbc4a","#2fae5a","#22a878","#3cc49a","#48c4cc","#3a9ec8","#4a86b8","#2c3f78","#3a3470"]}}
     }},
    {"data":{"name":"thr"},"transform":[{"filter":"datum.p === 'p2'"}],"mark":{"type":"rule","color":"#1c22b4","strokeWidth":3},"encoding":{"y":{"field":"t","type":"quantitative"}}},
    {"data":{"name":"thr"},"transform":[{"filter":"datum.p === 'p2'"}],"mark":{"type":"text","align":"left","baseline":"bottom","dy":-1,"font":"Liberation Serif, DejaVu Serif, serif","fontWeight":"bold","fontSize":11,"color":"#c0141c"},"encoding":{"x":{"datum":0.9},"y":{"field":"t","type":"quantitative"},"text":{"field":"t","type":"quantitative","format":".2f"}}}
   ]},
  {"width":600,"height":301,
   "layer":[
    {"data":{"name":"fit"},"transform":[{"filter":"datum.p === 'p2'"}],"mark":{"type":"line","color":"#333333","strokeWidth":1.1},
     "encoding":{
      "x":{"field":"q","type":"quantitative","scale":{"type":"log","domain":[0.001,1000],"nice":false},"axis":{"values":[0.001,0.002,0.003,0.004,0.005,0.006,0.007,0.008,0.009,0.01,0.02,0.03,0.04,0.05,0.06,0.07,0.08,0.09,0.1,0.2,0.3,0.4,0.5,0.6,0.7,0.8,0.9,1,2,3,4,5,6,7,8,9,10,20,30,40,50,60,70,80,90,100,200,300,400,500,600,700,800,900,1000],"tickCount":100,"format":"~g","labelExpr":"indexof([0.001,0.002,0.01,0.02,0.1,0.2,1,2,3,4,5,10,20,30,100,200,1000], datum.value) >= 0 ? datum.label : ''","labelOffset":{"condition":{"test":"datum.value === 0.001","value":-6},"value":0},"ticks":false,"labelPadding":6,"labelFontSize":13,"labelOverlap":false,"title":null}},
      "y":{"field":"ct","type":"quantitative","scale":{"domain":[19.3,38.25],"nice":false,"zero":false},"axis":{"values":[20,22.5,25,27.5,30,32.5,35,37.5],"format":".1f","ticks":false,"labelPadding":7,"labelFontSize":15,"title":"CT","titleFontSize":25,"titlePadding":3}}
     }},
    {"data":{"name":"std"},"transform":[{"filter":"datum.p === 'p2'"}],"mark":{"type":"point","shape":"M-0.8,-1H0.8V1H-0.8Z","filled":true,"size":100,"fill":"#1436f0","stroke":"#0a1a90","strokeWidth":1,"opacity":1},"encoding":{"x":{"field":"q","type":"quantitative"},"y":{"field":"ct","type":"quantitative"}}},
    {"data":{"name":"stat"},"transform":[{"filter":"datum.p === 'p2'"}],"mark":{"type":"text","align":"left","baseline":"top","lineBreak":"\n","lineHeight":26,"fontSize":15.5,"color":"#111"},"encoding":{"x":{"datum":0.00142},"y":{"datum":28.7},"text":{"field":"s","type":"nominal"}}}
   ]}
 ]},
{"title":{"text":"0.1 gel unit MNase","orient":"left","anchor":"middle","fontSize":31,"offset":10,"dx":-5},
 "spacing":23,
 "hconcat":[
  {"width":569,"height":307,
   "layer":[
    {"data":{"name":"amp"},"transform":[{"filter":"datum.p === 'p3'"},{"flatten":["c","v"]}],
     "mark":{"type":"line","strokeWidth":1.3,"clip":true},
     "encoding":{
      "x":{"field":"c","type":"quantitative","scale":{"domain":[0.9,40.05],"nice":false,"zero":false},"axis":{"values":[2,4,6,8,10,12,14,16,18,20,22,24,26,28,30,32,34,36,38,40],"tickCount":100,"format":"d","title":null,"tickSize":4,"labelPadding":2,"labelFontSize":13,"labelOverlap":false}},
      "y":{"field":"v","type":"quantitative","scale":{"type":"log","domain":[0.000069,0.70],"nice":false},"axis":{"values":[0.00008,0.00009,0.0001,0.0002,0.0003,0.0004,0.0005,0.0006,0.0007,0.0008,0.0009,0.001,0.002,0.003,0.004,0.005,0.006,0.007,0.008,0.009,0.01,0.02,0.03,0.04,0.05,0.06,0.07,0.08,0.09,0.1,0.2,0.3,0.4,0.5,0.6],"tickCount":100,"format":"~g","labelExpr":"indexof([0.0001,0.001,0.01,0.1], datum.value) >= 0 ? datum.label : ''","ticks":false,"labelPadding":6,"labelFontSize":14,"labelOverlap":false,"title":"Δ Rn","titleFontSize":21,"titlePadding":-19}},
      "color":{"field":"w","type":"nominal","legend":null,"scale":{"domain":["a1","a2","a3","b1","b2","b3","c1","c2","c3","d1","d2","d3","e1","e2","e3","f1","f2"],"range":["#8e1b1b","#b8431f","#c8703a","#e09a2a","#f0c840","#d8b850","#b8d040","#88c83c","#5cbc4a","#2fae5a","#22a878","#3cc49a","#48c4cc","#3a9ec8","#4a86b8","#2c3f78","#3a3470"]}}
     }},
    {"data":{"name":"thr"},"transform":[{"filter":"datum.p === 'p3'"}],"mark":{"type":"rule","color":"#157a2e","strokeWidth":3},"encoding":{"y":{"field":"t","type":"quantitative"}}},
    {"data":{"name":"thr"},"transform":[{"filter":"datum.p === 'p3'"}],"mark":{"type":"text","align":"left","baseline":"bottom","dy":-1,"font":"Liberation Serif, DejaVu Serif, serif","fontWeight":"bold","fontSize":11,"color":"#c0141c"},"encoding":{"x":{"datum":0.9},"y":{"field":"t","type":"quantitative"},"text":{"field":"t","type":"quantitative","format":".2f"}}}
   ]},
  {"width":600,"height":307,
   "layer":[
    {"data":{"name":"fit"},"transform":[{"filter":"datum.p === 'p3'"}],"mark":{"type":"line","color":"#333333","strokeWidth":1.1},
     "encoding":{
      "x":{"field":"q","type":"quantitative","scale":{"type":"log","domain":[0.001,1000],"nice":false},"axis":{"values":[0.001,0.002,0.003,0.004,0.005,0.006,0.007,0.008,0.009,0.01,0.02,0.03,0.04,0.05,0.06,0.07,0.08,0.09,0.1,0.2,0.3,0.4,0.5,0.6,0.7,0.8,0.9,1,2,3,4,5,6,7,8,9,10,20,30,40,50,60,70,80,90,100,200,300,400,500,600,700,800,900,1000],"tickCount":100,"format":"~g","labelExpr":"indexof([0.001,0.002,0.01,0.02,0.1,0.2,1,2,3,4,5,10,20,30,100,200,1000], datum.value) >= 0 ? datum.label : ''","labelOffset":{"condition":{"test":"datum.value === 0.001","value":-6},"value":0},"ticks":false,"labelPadding":6,"labelFontSize":13,"labelOverlap":false,"title":null}},
      "y":{"field":"ct","type":"quantitative","scale":{"domain":[18.9,38.35],"nice":false,"zero":false},"axis":{"values":[20,22.5,25,27.5,30,32.5,35,37.5],"format":".1f","ticks":false,"labelPadding":7,"labelFontSize":15,"title":"CT","titleFontSize":25,"titlePadding":3}}
     }},
    {"data":{"name":"std"},"transform":[{"filter":"datum.p === 'p3'"}],"mark":{"type":"point","shape":"M-0.8,-1H0.8V1H-0.8Z","filled":true,"size":100,"fill":"#1c8c3c","stroke":"#0e5a24","strokeWidth":1,"opacity":1},"encoding":{"x":{"field":"q","type":"quantitative"},"y":{"field":"ct","type":"quantitative"}}},
    {"data":{"name":"stat"},"transform":[{"filter":"datum.p === 'p3'"}],"mark":{"type":"text","align":"left","baseline":"top","lineBreak":"\n","lineHeight":26,"fontSize":15.5,"color":"#111"},"encoding":{"x":{"datum":0.00142},"y":{"datum":28.5},"text":{"field":"s","type":"nominal"}}}
   ]}
 ]},
{"title":{"text":"0.5 gel unit MNase","orient":"left","anchor":"middle","fontSize":31,"offset":10,"dx":16},
 "spacing":23,
 "hconcat":[
  {"width":569,"height":309,
   "layer":[
    {"data":{"name":"amp"},"transform":[{"filter":"datum.p === 'p4'"},{"flatten":["c","v"]}],
     "mark":{"type":"line","strokeWidth":1.3,"clip":true},
     "encoding":{
      "x":{"field":"c","type":"quantitative","scale":{"domain":[0.9,40.05],"nice":false,"zero":false},"axis":{"values":[2,4,6,8,10,12,14,16,18,20,22,24,26,28,30,32,34,36,38,40],"tickCount":100,"format":"d","title":"Cycles","titleFontSize":23,"titlePadding":7,"tickSize":4,"labelPadding":2,"labelFontSize":13,"labelOverlap":false}},
      "y":{"field":"v","type":"quantitative","scale":{"type":"log","domain":[0.000076,0.70],"nice":false},"axis":{"values":[0.00008,0.00009,0.0001,0.0002,0.0003,0.0004,0.0005,0.0006,0.0007,0.0008,0.0009,0.001,0.002,0.003,0.004,0.005,0.006,0.007,0.008,0.009,0.01,0.02,0.03,0.04,0.05,0.06,0.07,0.08,0.09,0.1,0.2,0.3,0.4,0.5,0.6],"tickCount":100,"format":"~g","labelExpr":"indexof([0.0001,0.001,0.01,0.1], datum.value) >= 0 ? datum.label : ''","ticks":false,"labelPadding":6,"labelFontSize":14,"labelOverlap":false,"title":"Δ Rn","titleFontSize":21,"titlePadding":-19}},
      "color":{"field":"w","type":"nominal","legend":null,"scale":{"domain":["a1","a2","a3","b1","b2","b3","c1","c2","c3","d1","d2","d3","e1","e2","e3","f1","f2"],"range":["#8e1b1b","#b8431f","#c8703a","#e09a2a","#f0c840","#d8b850","#b8d040","#88c83c","#5cbc4a","#2fae5a","#22a878","#3cc49a","#48c4cc","#3a9ec8","#4a86b8","#2c3f78","#3a3470"]}}
     }},
    {"data":{"name":"thr"},"transform":[{"filter":"datum.p === 'p4'"}],"mark":{"type":"rule","color":"#a01414","strokeWidth":3},"encoding":{"y":{"field":"t","type":"quantitative"}}},
    {"data":{"name":"thr"},"transform":[{"filter":"datum.p === 'p4'"}],"mark":{"type":"text","align":"left","baseline":"bottom","dy":-1,"font":"Liberation Serif, DejaVu Serif, serif","fontWeight":"bold","fontSize":11,"color":"#c0141c"},"encoding":{"x":{"datum":0.9},"y":{"field":"t","type":"quantitative"},"text":{"field":"t","type":"quantitative","format":".2f"}}}
   ]},
  {"width":600,"height":309,
   "layer":[
    {"data":{"name":"fit"},"transform":[{"filter":"datum.p === 'p4'"}],"mark":{"type":"line","color":"#333333","strokeWidth":1.1},
     "encoding":{
      "x":{"field":"q","type":"quantitative","scale":{"type":"log","domain":[0.001,1000],"nice":false},"axis":{"values":[0.001,0.002,0.003,0.004,0.005,0.006,0.007,0.008,0.009,0.01,0.02,0.03,0.04,0.05,0.06,0.07,0.08,0.09,0.1,0.2,0.3,0.4,0.5,0.6,0.7,0.8,0.9,1,2,3,4,5,6,7,8,9,10,20,30,40,50,60,70,80,90,100,200,300,400,500,600,700,800,900,1000],"tickCount":100,"format":"~g","labelExpr":"indexof([0.001,0.002,0.01,0.02,0.1,0.2,1,2,3,4,5,10,20,30,100,200,1000], datum.value) >= 0 ? datum.label : ''","labelOffset":{"condition":{"test":"datum.value === 0.001","value":-6},"value":0},"ticks":false,"labelPadding":6,"labelFontSize":13,"labelOverlap":false,"title":"Quantity","titleFontSize":23,"titlePadding":7}},
      "y":{"field":"ct","type":"quantitative","scale":{"domain":[19.3,38.9],"nice":false,"zero":false},"axis":{"values":[20,22.5,25,27.5,30,32.5,35,37.5],"format":".1f","ticks":false,"labelPadding":7,"labelFontSize":15,"title":"CT","titleFontSize":25,"titlePadding":3}}
     }},
    {"data":{"name":"std"},"transform":[{"filter":"datum.p === 'p4'"}],"mark":{"type":"point","shape":"M-0.8,-1H0.8V1H-0.8Z","filled":true,"size":100,"fill":"#b31b1b","stroke":"#6e0e0e","strokeWidth":1,"opacity":1},"encoding":{"x":{"field":"q","type":"quantitative"},"y":{"field":"ct","type":"quantitative"}}},
    {"data":{"name":"stat"},"transform":[{"filter":"datum.p === 'p4'"}],"mark":{"type":"text","align":"left","baseline":"top","lineBreak":"\n","lineHeight":26,"fontSize":15.5,"color":"#111"},"encoding":{"x":{"datum":0.00142},"y":{"datum":29.3},"text":{"field":"s","type":"nominal"}}}
   ]}
 ]}
]
}
